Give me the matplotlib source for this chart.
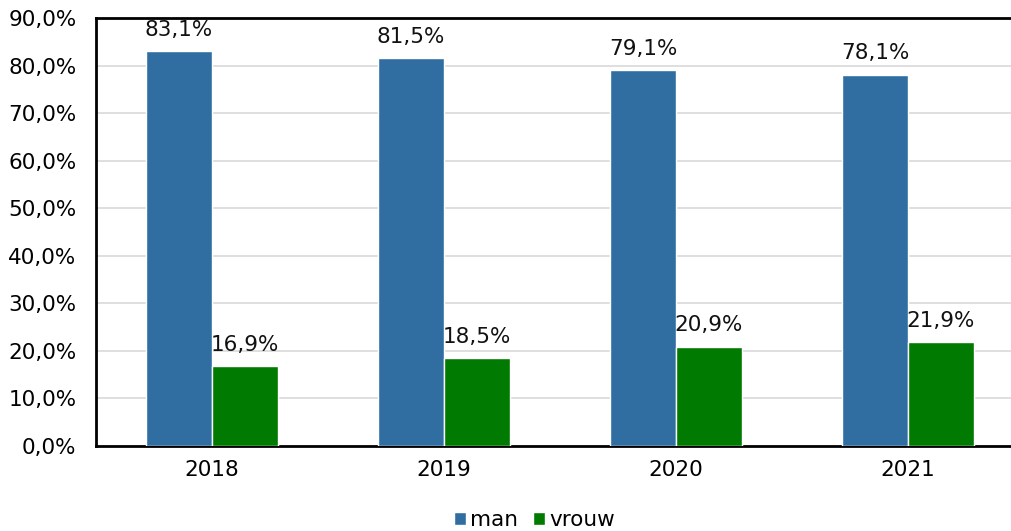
import matplotlib.pyplot as plt
import numpy as np

years = ['2018', '2019', '2020', '2021']
man = [83.1, 81.5, 79.1, 78.1]
vrouw = [16.9, 18.5, 20.9, 21.9]

c_man = '#306ea1'
c_vrouw = '#007a00'

plt.rcParams['font.family'] = ['DejaVu Sans']
fs = 15.5

fig = plt.figure(figsize=(10.12, 5.31), dpi=100)
ax = fig.add_axes([96 / 1012, 85 / 531, 928 / 1012, 428 / 531])

x = np.arange(len(years))
w = 0.285
b1 = ax.bar(x - w / 2, man, w, color=c_man, edgecolor='white', linewidth=1, label='man', zorder=3)
b2 = ax.bar(x + w / 2, vrouw, w, color=c_vrouw, edgecolor='white', linewidth=1, label='vrouw', zorder=3)

def fmt(v):
    return f'{v:.1f}%'.replace('.', ',')

for bars in (b1, b2):
    for r in bars:
        ax.annotate(fmt(r.get_height()), (r.get_x() + r.get_width() / 2, r.get_height()),
                    xytext=(0, 8), textcoords='offset points', ha='center', va='bottom',
                    fontsize=fs, color='#111111')

ax.set_xlim(-0.5, 3.5)
ax.set_ylim(0, 90)
ax.set_yticks(np.arange(0, 91, 10))
ax.set_yticklabels([fmt(v) for v in np.arange(0, 91, 10)], fontsize=fs)
ax.set_xticks(x)
ax.set_xticklabels(years, fontsize=fs)
ax.tick_params(axis='y', length=0, pad=14)
ax.tick_params(axis='x', length=0, pad=10)
ax.yaxis.grid(True, color='#d9d9d9', linewidth=1.2, zorder=0)
for s in ('left', 'bottom', 'top'):
    ax.spines[s].set_linewidth(2)
ax.spines['right'].set_visible(False)

fig.legend(handles=[b1, b2], labels=['man', 'vrouw'], loc='lower center',
           bbox_to_anchor=(0.528, -0.035), ncol=2, frameon=False, fontsize=fs,
           handlelength=0.55, handleheight=0.55, handletextpad=0.2, columnspacing=0.7)

fig.savefig('out.png', dpi=100)
